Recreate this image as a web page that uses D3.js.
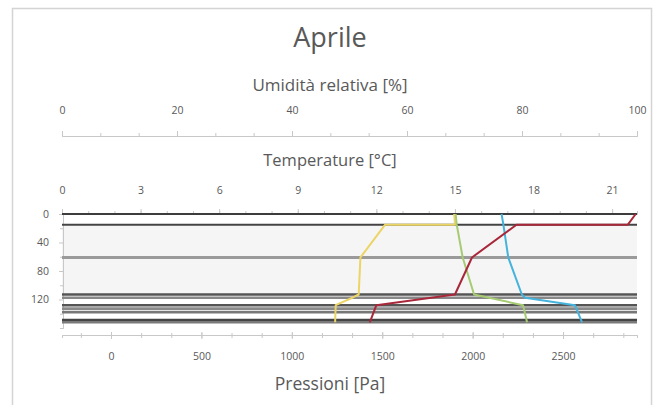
<!DOCTYPE html>
<html>
<head>
<meta charset="utf-8">
<script src="https://cdn.jsdelivr.net/npm/d3@7"></script>
<style>
  body { margin: 0; background: #fff; }
  svg { display: block; }
  text { font-family: "Open Sans", sans-serif; fill: #595959; }
</style>
</head>
<body>
<svg id="chart" width="659" height="405"></svg>
<script>
// Axis ticks
const depthTicks = [0, 40, 80, 120];
const depthMinorTicks = [20, 60, 100, 140];
const humidityTicks = [0, 20, 40, 60, 80, 100];
const temperatureTicks = [0, 3, 6, 9, 12, 15, 18, 21];
const pressureTicks = [0, 500, 1000, 1500, 2000, 2500];

// Wall layer boundaries (depth)
const layerDepths = [0, 15, 61, 113, 117.5, 128, 133, 138, 149, 152];

// Temperature profile [°C]
const temperatureDepth = [0, 15, 15, 61, 113, 128, 152];
const temperatureValues = [21.9, 21.6, 17.35, 15.65, 15.0, 12.0, 11.75];

// Saturation pressure [Pa]
const saturationDepth = [0, 15, 61, 113, 117.5, 128, 152];
const saturationValues = [2160, 2170, 2197, 2272, 2290, 2566, 2605];

// Vapour pressure [Pa]
const vapourDepth = [0, 15, 61, 113, 128, 152];
const vapourValues = [1906, 1912, 1945, 2008, 2279, 2301];

// Relative humidity [%]
const humidityDepth = [0, 15, 15, 61, 113, 117.5, 128, 152];
const humidityValues = [68.2, 68.35, 56.2, 51.9, 51.6, 50.5, 47.6, 47.5];

const svg = d3.select("#chart");
const plotLeft = 62, plotRight = 637, plotTop = 214, plotBottom = 328;

const y = d3.scaleLinear().domain([0, 160]).range([plotTop, plotBottom]);
const xHum = d3.scaleLinear().domain([0, 100]).range([plotLeft, plotRight]);
const xTemp = d3.scaleLinear().domain([0, 21.95]).range([plotLeft, plotRight]);
const xPres = d3.scaleLinear().domain([-271, 2909]).range([plotLeft, plotRight]);

// Outer frame
svg.append("rect")
  .attr("x", 12.5).attr("y", 8.5).attr("width", 639).attr("height", 410)
  .attr("fill", "none").attr("stroke", "#d4d4d4").attr("stroke-width", 1.5);

// Title and axis titles
svg.append("text").attr("x", 330).attr("y", 47).attr("text-anchor", "middle")
  .attr("font-size", 27).attr("fill", "#666").text("Aprile");
svg.append("text").attr("x", 330).attr("y", 91).attr("text-anchor", "middle")
  .attr("font-size", 17).text("Umidità relativa [%]");
svg.append("text").attr("x", 330).attr("y", 166).attr("text-anchor", "middle")
  .attr("font-size", 16.5).text("Temperature [°C]");
svg.append("text").attr("x", 330).attr("y", 390).attr("text-anchor", "middle")
  .attr("font-size", 17.5).text("Pressioni [Pa]");

// Plot background band
svg.append("rect")
  .attr("x", plotLeft).attr("width", plotRight - plotLeft)
  .attr("y", y(layerDepths[1])).attr("height", y(layerDepths[3]) - y(layerDepths[1]))
  .attr("fill", "#f5f5f5");

function styleAxis(g) {
  g.select(".domain").attr("stroke", "#c8c8c8");
  g.selectAll(".tick line").attr("stroke", "#c8c8c8");
  g.selectAll(".tick text").attr("fill", "#6a6a6a").attr("font-size", 10.5)
    .attr("font-family", "Open Sans, sans-serif");
}

function minorValues(scale, step) {
  const [a, b] = scale.domain();
  const out = [];
  for (let v = Math.ceil(a / step) * step; v <= b + 1e-9; v += step) out.push(v);
  return out;
}

const plain = d3.format("d");

// Humidity axis (top)
const gHumMinor = svg.append("g").attr("transform", "translate(0,136)")
  .call(d3.axisTop(xHum).tickValues(minorValues(xHum, 20 / 3)).tickSize(3).tickFormat(""));
styleAxis(gHumMinor);
const gHum = svg.append("g").attr("transform", "translate(0,136)")
  .call(d3.axisTop(xHum).tickValues(humidityTicks).tickSize(5).tickPadding(17).tickSizeOuter(0).tickFormat(plain));
styleAxis(gHum);

// Temperature axis (top of plot)
const gTempMinor = svg.append("g").attr("transform", `translate(0,${plotTop})`)
  .call(d3.axisTop(xTemp).tickValues(minorValues(xTemp, 1)).tickSize(3).tickFormat(""));
styleAxis(gTempMinor);
const gTemp = svg.append("g").attr("transform", `translate(0,${plotTop})`)
  .call(d3.axisTop(xTemp).tickValues(temperatureTicks).tickSize(5).tickPadding(15).tickSizeOuter(0).tickFormat(plain));
styleAxis(gTemp);

// Depth axis (left)
const gDepthMinor = svg.append("g").attr("transform", `translate(${plotLeft + 1},0)`)
  .call(d3.axisLeft(y).tickValues(depthMinorTicks).tickSize(3).tickFormat(""));
styleAxis(gDepthMinor);
const gDepth = svg.append("g").attr("transform", `translate(${plotLeft + 1},0)`)
  .call(d3.axisLeft(y).tickValues(depthTicks).tickSize(4).tickPadding(10).tickSizeOuter(0).tickFormat(plain));
styleAxis(gDepth);

// Pressure axis (bottom)
const gPresMinor = svg.append("g").attr("transform", "translate(0,335)")
  .call(d3.axisBottom(xPres).tickValues(minorValues(xPres, 500 / 3)).tickSize(3).tickFormat(""));
gPresMinor.selectAll(".tick line").attr("y1", -2);
styleAxis(gPresMinor);
const gPres = svg.append("g").attr("transform", "translate(0,335)")
  .call(d3.axisBottom(xPres).tickValues(pressureTicks).tickSize(4).tickPadding(14).tickSizeOuter(0).tickFormat(plain));
gPres.selectAll(".tick line").attr("y1", -3);
styleAxis(gPres);

// Layer boundaries
const layerColors = ["#3c3c3c", "#444", "#9a9a9a", "#555", "#888", "#555", "#8a8a8a", "#777", "#444", "#7a7a7a"];
const layerWidths = [2, 2, 3, 2.5, 2.5, 2.5, 3, 2.5, 3, 2.5];
svg.append("g").selectAll("line").data(layerDepths).join("line")
  .attr("x1", plotLeft).attr("x2", plotRight)
  .attr("y1", d => y(d)).attr("y2", d => y(d))
  .attr("stroke", (d, i) => layerColors[i])
  .attr("stroke-width", (d, i) => layerWidths[i]);

// Profiles
function profile(depths, values, xScale, color) {
  const pts = depths.map((d, i) => [xScale(values[i]), y(d)]);
  svg.append("path").attr("d", d3.line()(pts))
    .attr("fill", "none").attr("stroke", color).attr("stroke-width", 2)
    .attr("stroke-linejoin", "round");
}
profile(humidityDepth, humidityValues, xHum, "#ecd566");
profile(vapourDepth, vapourValues, xPres, "#a6cb72");
profile(saturationDepth, saturationValues, xPres, "#46b3dc");
profile(temperatureDepth, temperatureValues, xTemp, "#a8283a");
</script>
</body>
</html>
